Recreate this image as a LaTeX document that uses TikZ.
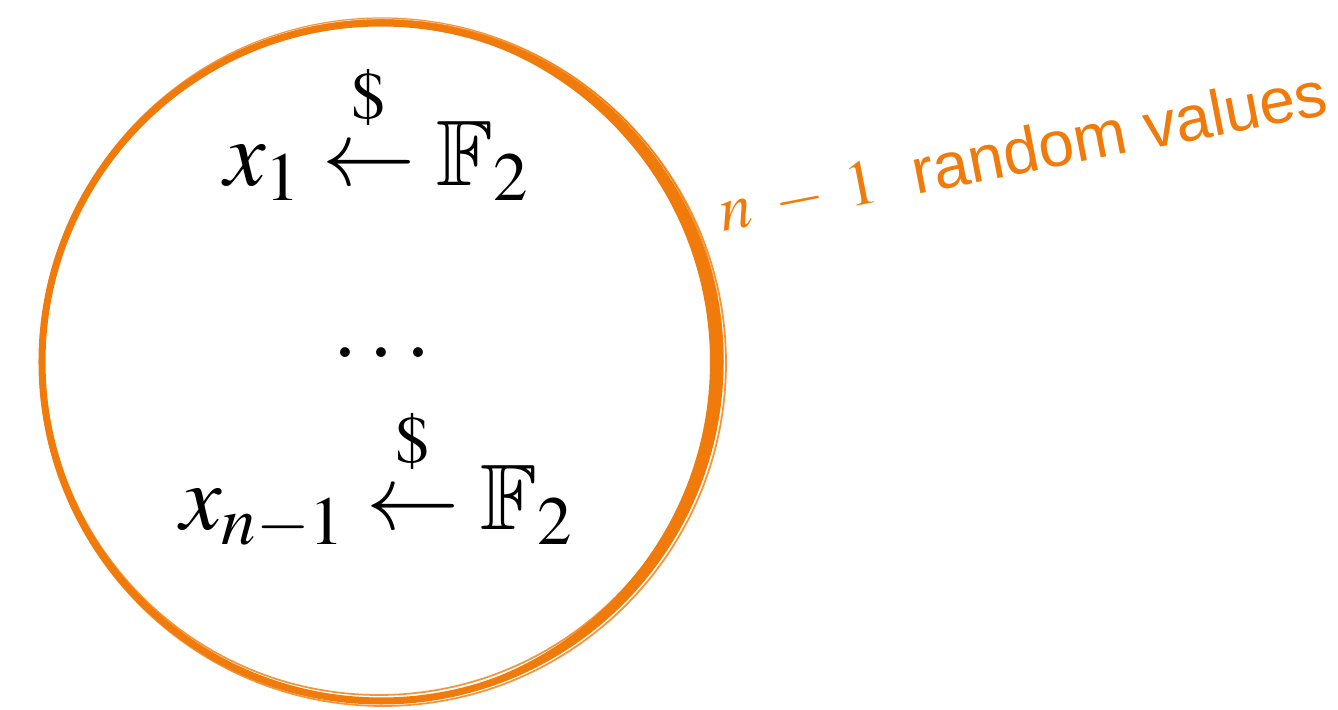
\documentclass[tikz,border=0pt]{standalone}
\usepackage{amsmath}
\usepackage{amssymb}
\usepackage{mathptmx}
\usepackage{fontspec}
\setsansfont{Liberation Sans}
\usepackage{tikz}
\usetikzlibrary{positioning,calc}
\definecolor{SketchOrange}{HTML}{F07A0A}
\newcommand{\sampfrom}{\mathrel{\overset{\raisebox{0.35ex}{$\scriptstyle\$$}}{\leftarrow}}}
\tikzset{
  pool/.style={circle,draw=SketchOrange,line width=2pt,
               minimum size=6.78cm,inner sep=0pt},
  rough/.style={draw=SketchOrange,line width=0.5pt,opacity=0.8},
  samp/.style={anchor=base,inner sep=0pt,font=\fontsize{26.5}{32}\selectfont},
  lbl/.style={anchor=base west,inner sep=0pt,text=SketchOrange,
              font=\sffamily\fontsize{18.3}{22}\selectfont}
}
\begin{document}
\begin{tikzpicture}
  \useasboundingbox (0,0) rectangle (13.38,7.10);
  \node[pool] (pool) at (3.81,3.48) {};
  % heavier stroke on the right side
  \begin{scope}
    \clip (3.81,0) rectangle (8,7.10);
    \fill[SketchOrange,even odd rule] (pool.center) circle (3.39)
      ($(pool.center)+(-0.10,0)$) circle (3.39);
  \end{scope}
  % rough pencil strokes round the circle
  \draw[rough] ($(pool.center)+(0.02,-0.01)$) circle (3.43);
  \draw[rough] ($(pool.center)+(-0.02,0.02)$) circle (3.35);
  \draw[rough,line width=0.35pt] ($(pool.center)+(0.01,0.03)$) circle (3.41);
  \node[samp] (first) at (3.77,5.24) {$x_1 \sampfrom \mathbb{F}_2$};
  \node[samp,anchor=center] (dots) at (3.82,3.57) {$\ldots$};
  \node[samp] (last) at (3.77,1.80) {$x_{n-1} \sampfrom \mathbb{F}_2$};
  \node[lbl,rotate=11] (count) at (7.23,4.78)
    {$n\;-\;1$\ \ random values};
\end{tikzpicture}
\end{document}
